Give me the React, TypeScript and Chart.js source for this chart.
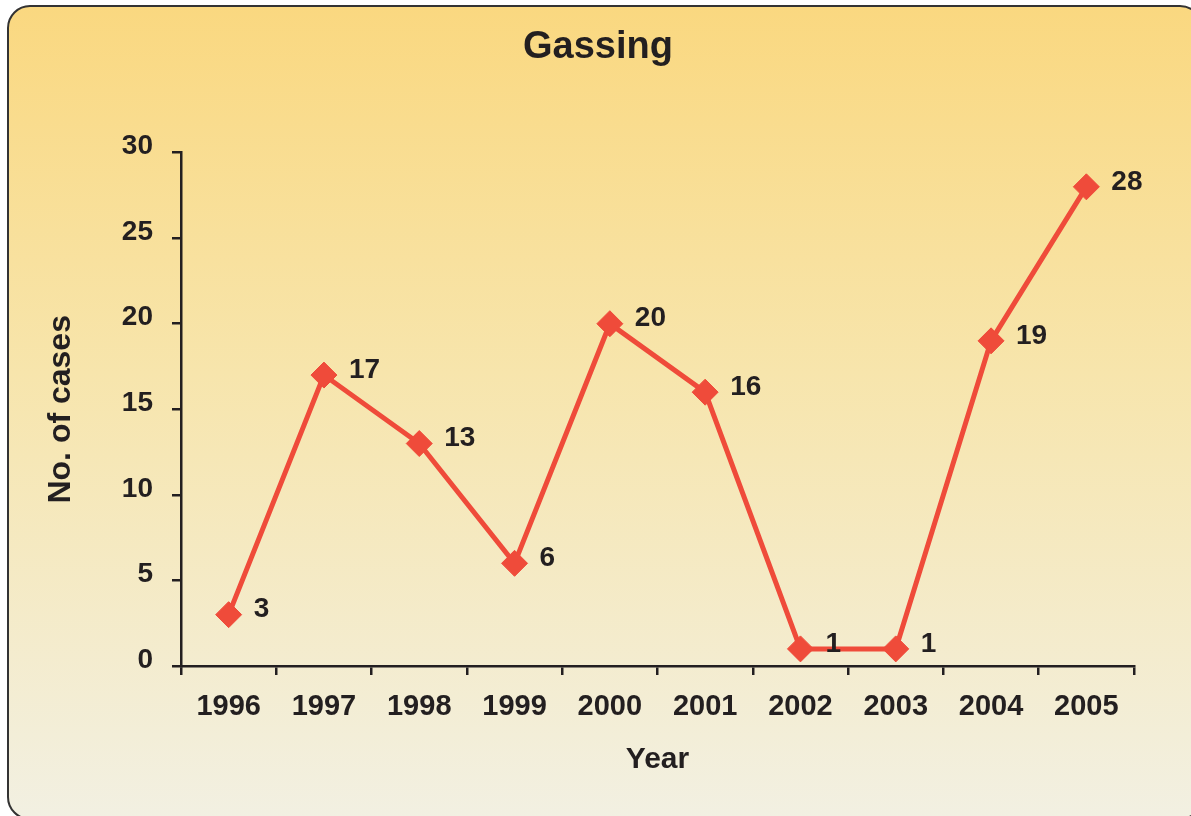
import React, { useEffect, useRef } from 'react';
import { Chart, registerables } from 'chart.js';

Chart.register(...registerables);

const years: string[] = ['1996', '1997', '1998', '1999', '2000', '2001', '2002', '2003', '2004', '2005'];
const cases: number[] = [3, 17, 13, 6, 20, 16, 1, 1, 19, 28];
const yMin = 0;
const yMax = 30;
const yStep = 5;

const chartTitle = 'Gassing';
const xTitle = 'Year';
const yTitle = 'No. of cases';

const FONT = "'Liberation Sans', Arial, Helvetica, sans-serif";
const INK = '#231f20';
const RED = '#ef4b3a';

const valueLabels = {
  id: 'valueLabels',
  afterDatasetsDraw(chart: any) {
    const ctx = chart.ctx;
    const meta = chart.getDatasetMeta(0);
    const data = chart.data.datasets[0].data as number[];
    ctx.save();
    ctx.font = `bold 28px ${FONT}`;
    ctx.fillStyle = INK;
    ctx.textAlign = 'left';
    ctx.textBaseline = 'middle';
    meta.data.forEach((pt: any, i: number) => {
      ctx.fillText(String(data[i]), pt.x + 25, pt.y - 5);
    });
    ctx.restore();
  },
};

export default function App() {
  const canvasRef = useRef<HTMLCanvasElement | null>(null);

  useEffect(() => {
    document.body.style.margin = '0';
    document.body.style.overflow = 'hidden';
    const canvas = canvasRef.current;
    if (!canvas) return;
    const chart = new Chart(canvas, {
      type: 'line',
      data: {
        labels: years,
        datasets: [
          {
            data: cases,
            borderColor: RED,
            backgroundColor: RED,
            borderWidth: 5,
            pointStyle: 'rectRot',
            pointRadius: 13,
            pointBorderWidth: 1,
            pointBackgroundColor: RED,
            pointBorderColor: RED,
            tension: 0,
            fill: false,
          },
        ],
      },
      options: {
        responsive: false,
        animation: false,
        devicePixelRatio: 1,
        layout: { padding: { left: 62, right: 57, top: 0, bottom: 0 } },
        plugins: {
          legend: { display: false },
          tooltip: { enabled: false },
          title: {
            display: true,
            text: chartTitle,
            color: INK,
            font: { family: FONT, size: 38, weight: 'bold', lineHeight: 1.2 },
            padding: { top: 25, bottom: 82 },
          },
        },
        scales: {
          x: {
            type: 'category',
            offset: true,
            grid: {
              offset: true,
              drawOnChartArea: false,
              drawTicks: true,
              tickLength: 9,
              color: INK,
              lineWidth: 2.5,
            },
            border: { display: true, color: INK, width: 2.5 },
            ticks: {
              color: INK,
              font: { family: FONT, size: 29, weight: 'bold' },
              padding: 15,
              maxRotation: 0,
              autoSkip: false,
            },
            title: {
              display: true,
              text: xTitle,
              color: INK,
              font: { family: FONT, size: 30, weight: 'bold' },
              padding: { top: 0, bottom: 38 },
            },
            afterFit(scale: any) {
              scale.height = 150;
            },
          },
          y: {
            min: yMin,
            max: yMax,
            grid: {
              drawOnChartArea: false,
              drawTicks: true,
              tickLength: 9,
              color: INK,
              lineWidth: 2.5,
            },
            border: { display: true, color: INK, width: 2.5 },
            ticks: {
              stepSize: yStep,
              color: INK,
              font: { family: FONT, size: 28, weight: 'bold' },
              padding: 19,
              labelOffset: -6,
            },
            title: {
              display: true,
              text: yTitle,
              color: INK,
              font: { family: FONT, size: 32, weight: 'bold' },
              padding: { top: -20, bottom: 0 },
            },
            afterFit(scale: any) {
              scale.width = 119;
            },
          },
        },
      },
      plugins: [valueLabels],
    } as any);
    return () => chart.destroy();
  }, []);

  return (
    <div
      style={{
        position: 'fixed',
        left: 0,
        top: 0,
        width: 1191,
        height: 816,
        overflow: 'hidden',
        background: '#ffffff',
      }}
    >
      <div
        style={{
          position: 'absolute',
          left: 7,
          top: 5,
          width: 1196,
          height: 815,
          boxSizing: 'border-box',
          border: '2px solid #333333',
          borderRadius: 23,
          background: 'linear-gradient(to bottom, #fad880 0%, #f7e5ac 45%, #f2f0e2 100%)',
        }}
      />
      <canvas
        ref={canvasRef}
        width={1191}
        height={816}
        style={{ position: 'absolute', left: 0, top: 0, width: 1191, height: 816 }}
      />
    </div>
  );
}
